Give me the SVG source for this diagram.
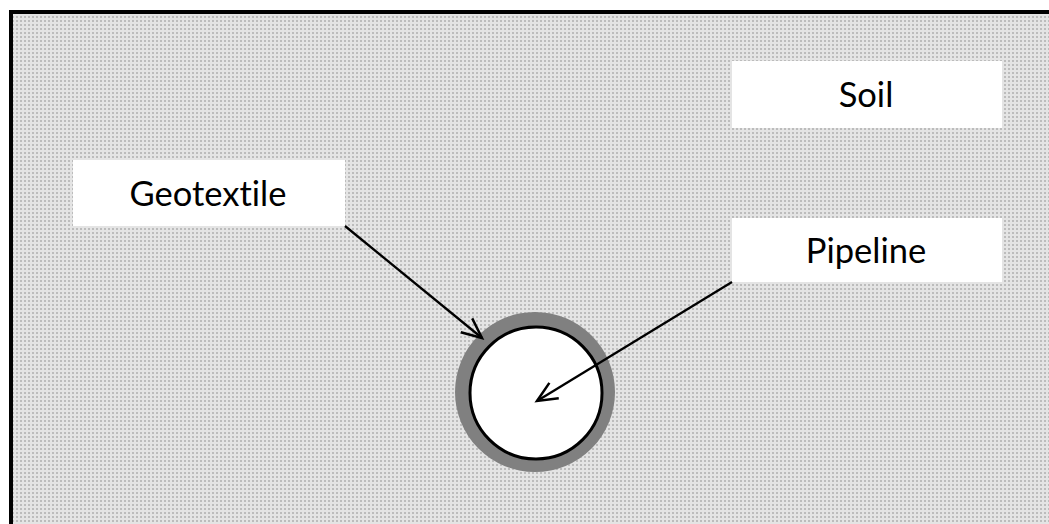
<svg xmlns="http://www.w3.org/2000/svg" width="1049" height="524" viewBox="0 0 1049 524">
<defs>
<pattern id="dots" width="4" height="4" patternUnits="userSpaceOnUse">
<rect width="4" height="4" fill="#e4e4e4"/>
<rect x="0" y="0" width="2" height="2" fill="#bcbcbc"/>
</pattern>
<marker id="arr" markerUnits="userSpaceOnUse" markerWidth="30" markerHeight="30" refX="22" refY="10" orient="auto" viewBox="0 0 30 20">
<path d="M2,1 L22,10 L2,19" fill="none" stroke="#000" stroke-width="2.5"/>
</marker>
<style>
.lbl{fill:#fff}
.txt{font-family:Lato,"Open Sans","Liberation Sans",sans-serif;font-size:34.5px;fill:#000;text-anchor:middle;font-variant-ligatures:none;font-feature-settings:"liga" 0}
.conn{stroke:#000;stroke-width:2.3;fill:none}
</style>
</defs>
<rect x="0" y="0" width="1049" height="524" fill="#fff"/>
<g id="soil-area">
<rect x="11" y="12" width="1060" height="530" fill="url(#dots)" stroke="#000" stroke-width="4"/>
</g>
<g id="soil">
<rect class="lbl" x="732" y="61" width="270" height="67"/>
<text class="txt" x="866" y="107">Soil</text>
</g>
<g id="pipeline-label">
<rect class="lbl" x="732" y="218" width="270" height="64"/>
<text class="txt" x="866" y="263">Pipeline</text>
</g>
<g id="geotextile-label">
<rect class="lbl" x="73" y="160" width="272" height="66"/>
<text class="txt" x="208" y="206">Geotextile</text>
</g>
<g id="pipe">
<circle cx="535" cy="392" r="80" fill="#808080"/>
<circle cx="536" cy="393" r="66" fill="#fff" stroke="#000" stroke-width="3"/>
</g>
<g id="connectors">
<line class="conn" x1="345" y1="226" x2="482" y2="338" marker-end="url(#arr)"/>
<line class="conn" x1="732" y1="282" x2="537" y2="401" marker-end="url(#arr)"/>
</g>
</svg>
